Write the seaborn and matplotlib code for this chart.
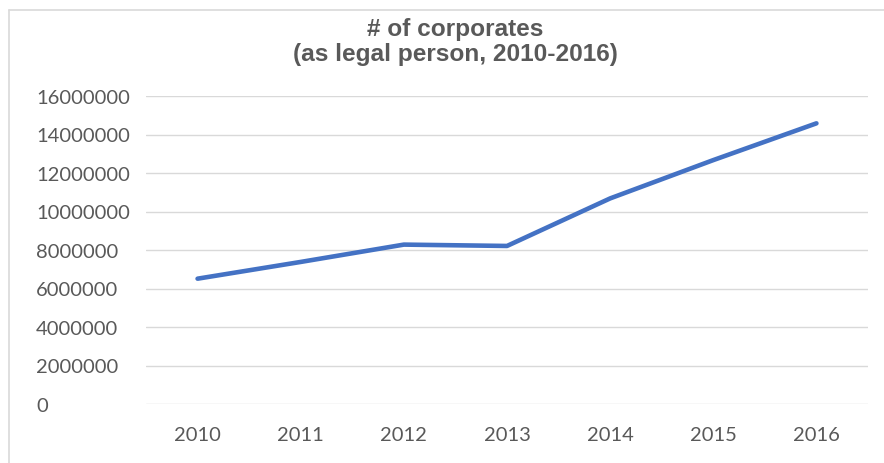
import matplotlib
matplotlib.use("Agg")
import matplotlib.pyplot as plt
from matplotlib.lines import Line2D
import seaborn as sns
import pandas as pd

years = ["2010", "2011", "2012", "2013", "2014", "2015", "2016"]
corporates = [6510000, 7380000, 8280000, 8210000, 10680000, 12670000, 14580000]
y_ticks = [0, 2000000, 4000000, 6000000, 8000000, 10000000, 12000000, 14000000, 16000000]

sns.set_theme(style="white")
plt.rcParams['font.family'] = ['Lato', 'DejaVu Sans']

W, H = 884, 464
fig = plt.figure(figsize=(W / 100, H / 100), dpi=100)
ax = fig.add_axes([146 / W, 1 - 405 / H, (868 - 146) / W, (405 - 97) / H])

df = pd.DataFrame({"year": years, "count": corporates})
sns.lineplot(data=df, x="year", y="count", ax=ax, color="#4472C4", linewidth=3.3,
             sort=False)

ax.set_xlim(-0.5, len(years) - 0.5)
ax.set_ylim(0, 16000000)
ax.set_yticks(y_ticks)
ax.set_yticklabels([str(v) for v in y_ticks])
ax.grid(axis="y", color="#D9D9D9", linewidth=1.0)
ax.set_axisbelow(True)
for s in ax.spines.values():
    s.set_visible(False)
ax.set_xlabel("")
ax.set_ylabel("")
ax.tick_params(axis="y", length=0, pad=(146 - 36) * 0.72, labelsize=14.5, labelcolor="#595959")
ax.tick_params(axis="x", length=0, pad=16, labelsize=14.5, labelcolor="#595959")
for lab in ax.get_yticklabels():
    lab.set_horizontalalignment("left")

fig.text(455 / W, 1 - 42 / H, "# of corporates\n(as legal person, 2010-2016)",
         ha="center", va="center", fontsize=17.6, fontweight="bold", color="#595959",
         family=["Liberation Sans", "DejaVu Sans"], linespacing=1.15)

# partial chart border (top and left)
fig.add_artist(Line2D([9 / W, 1], [1 - 11 / H, 1 - 11 / H], color="#D9D9D9", linewidth=1.2))
fig.add_artist(Line2D([9 / W, 9 / W], [0, 1 - 11 / H], color="#D9D9D9", linewidth=1.2))

fig.savefig("out.png", dpi=100)
